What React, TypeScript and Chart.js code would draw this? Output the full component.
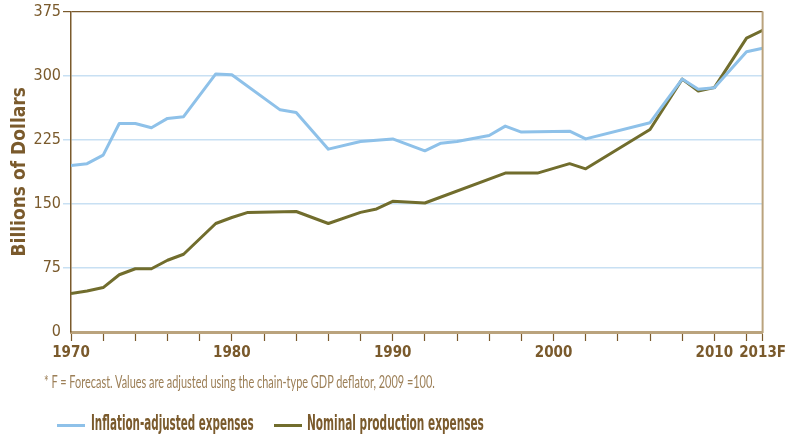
import React, { useEffect, useLayoutEffect, useRef, useState } from "react";
import { Chart, registerables } from "chart.js";

Chart.register(...registerables);

// ---- data ----
const realYears = [1970, 1971, 1972, 1973, 1974, 1975, 1976, 1977, 1979, 1980, 1983, 1984, 1986, 1988, 1990, 1992, 1993, 1994, 1996, 1997, 1998, 2001, 2002, 2006, 2008, 2009, 2010, 2012, 2013];
const realValues = [195, 197, 207, 244, 244, 239, 250, 252, 302, 301, 260, 257, 214, 223, 226, 212, 221, 223, 230, 241, 234, 235, 226, 245, 296, 284, 286, 328, 332];

const nominalYears = [1970, 1971, 1972, 1973, 1974, 1975, 1976, 1977, 1979, 1980, 1981, 1984, 1986, 1988, 1989, 1990, 1992, 1997, 1999, 2001, 2002, 2006, 2008, 2009, 2010, 2012, 2013];
const nominalValues = [45, 48, 52, 67, 74, 74, 84, 91, 127, 134, 140, 141, 127, 140, 144, 153, 151, 186, 186, 197, 191, 237, 296, 282, 286, 344, 353];

const seriesNames = ["Inflation-adjusted expenses", "Nominal production expenses"];
const yTickValues = [0, 75, 150, 225, 300, 375];
const xTickYears = [1970, 1972, 1974, 1976, 1978, 1980, 1982, 1984, 1986, 1988, 1990, 1992, 1994, 1996, 1998, 2000, 2002, 2004, 2006, 2008, 2010, 2012, 2013];
const xLabelYears = [1970, 1980, 1990, 2000, 2010, 2013];
const xLabelTexts = ["1970", "1980", "1990", "2000", "2010", "2013F"];
const yAxisTitle = "Billions of Dollars";
const footnote = "* F = Forecast. Values are adjusted using the chain-type GDP deflator, 2009 =100.";

// ---- styles ----
const BROWN = "#7a5a2c";
const TAN = "#baa37d";
const BLUE = "#8ec1e9";
const OLIVE = "#716d2d";
const GRID = "#c8e0f3";
const FOOT = "#9c7f57";
const NARROW = "'Liberation Sans Narrow', 'DejaVu Sans Condensed', 'Roboto Condensed', 'Liberation Sans', sans-serif";

function FitText(props: { text: string; left: number; top: number; width: number; style: React.CSSProperties }) {
  const ref = useRef<HTMLSpanElement | null>(null);
  const [scale, setScale] = useState(1);
  useLayoutEffect(() => {
    if (ref.current) {
      const w = ref.current.offsetWidth;
      if (w > 0) setScale(props.width / w);
    }
  }, [props.text, props.width]);
  return (
    <span
      ref={ref}
      style={{
        position: "absolute",
        left: props.left,
        top: props.top,
        whiteSpace: "nowrap",
        display: "inline-block",
        transformOrigin: "left center",
        transform: `scaleX(${scale})`,
        ...props.style,
      }}
    >
      {props.text}
    </span>
  );
}

const rightBorder = {
  id: "rightBorder",
  afterDraw(chart: any) {
    const { ctx, chartArea } = chart;
    ctx.save();
    ctx.strokeStyle = TAN;
    ctx.lineWidth = 2;
    ctx.beginPath();
    ctx.moveTo(chartArea.right, chartArea.top);
    ctx.lineTo(chartArea.right, chartArea.bottom + 1);
    ctx.stroke();
    ctx.restore();
  },
};

export default function App() {
  const canvasRef = useRef<HTMLCanvasElement | null>(null);

  useEffect(() => {
    document.body.style.margin = "0";
    const canvas = canvasRef.current;
    if (!canvas) return;
    const chart = new Chart(canvas, {
      type: "line",
      data: {
        datasets: [
          {
            label: seriesNames[0],
            data: realYears.map((y, i) => ({ x: y, y: realValues[i] })),
            borderColor: BLUE,
            backgroundColor: BLUE,
            borderWidth: 3,
            pointRadius: 0,
            tension: 0,
            borderJoinStyle: "round",
          },
          {
            label: seriesNames[1],
            data: nominalYears.map((y, i) => ({ x: y, y: nominalValues[i] })),
            borderColor: OLIVE,
            backgroundColor: OLIVE,
            borderWidth: 3,
            pointRadius: 0,
            tension: 0,
            borderJoinStyle: "round",
          },
        ],
      },
      options: {
        animation: false,
        responsive: false,
        layout: { padding: { left: 0, top: 11, right: 25, bottom: 0 } },
        plugins: { legend: { display: false }, tooltip: { enabled: false } },
        scales: {
          x: {
            type: "linear",
            min: 1970,
            max: 2013,
            afterBuildTicks: (scale: any) => {
              scale.ticks = xTickYears.map((v) => ({ value: v }));
            },
            afterFit: (scale: any) => {
              scale.height = 103;
            },
            ticks: {
              autoSkip: false,
              maxRotation: 0,
              color: BROWN,
              padding: 3,
              font: { family: NARROW, size: 15, weight: "bold" },
              callback: (value: any) => {
                const idx = xLabelYears.indexOf(Number(value));
                return idx >= 0 ? xLabelTexts[idx] : "";
              },
            },
            grid: {
              drawOnChartArea: false,
              drawTicks: true,
              tickLength: 9,
              tickColor: BROWN,
              tickWidth: 1.2,
            },
            border: { color: TAN, width: 3 },
          },
          y: {
            type: "linear",
            min: 0,
            max: 375,
            afterBuildTicks: (scale: any) => {
              scale.ticks = yTickValues.map((v) => ({ value: v }));
            },
            afterFit: (scale: any) => {
              scale.width = 71;
            },
            ticks: {
              color: BROWN,
              padding: 2,
              font: { family: NARROW, size: 16 },
            },
            grid: {
              color: (ctx: any) =>
                ctx.tick && ctx.tick.value === 375 ? BROWN : ctx.tick && ctx.tick.value === 0 ? "rgba(0,0,0,0)" : GRID,
              lineWidth: (ctx: any) => (ctx.tick && ctx.tick.value === 375 ? 1.2 : 1.5),
              tickLength: 8,
            },
            border: { color: BROWN, width: 1.5 },
            title: {
              display: true,
              text: yAxisTitle,
              color: BROWN,
              font: { family: NARROW, size: 19, weight: "bold" },
              padding: { top: 9, bottom: 0 },
            },
          },
        },
      },
      plugins: [rightBorder],
    } as any);
    return () => chart.destroy();
  }, []);

  return (
    <div style={{ position: "relative", width: 789, height: 435, overflow: "hidden", background: "#fff" }}>
      <canvas ref={canvasRef} width={789} height={435} style={{ position: "absolute", left: 0, top: 0 }} />
      <FitText
        text={footnote}
        left={44}
        top={371}
        width={391}
        style={{ fontFamily: "Lato, 'Open Sans', sans-serif", fontSize: 17, color: FOOT, lineHeight: "22px" }}
      />
      <div style={{ position: "absolute", left: 57, top: 424, width: 28, height: 3, background: BLUE }} />
      <FitText
        text={seriesNames[0]}
        left={91}
        top={410}
        width={163}
        style={{ fontFamily: NARROW, fontWeight: "bold", fontSize: 21, color: BROWN, lineHeight: "26px" }}
      />
      <div style={{ position: "absolute", left: 274, top: 424, width: 28, height: 3, background: OLIVE }} />
      <FitText
        text={seriesNames[1]}
        left={307}
        top={410}
        width={177}
        style={{ fontFamily: NARROW, fontWeight: "bold", fontSize: 21, color: BROWN, lineHeight: "26px" }}
      />
    </div>
  );
}
